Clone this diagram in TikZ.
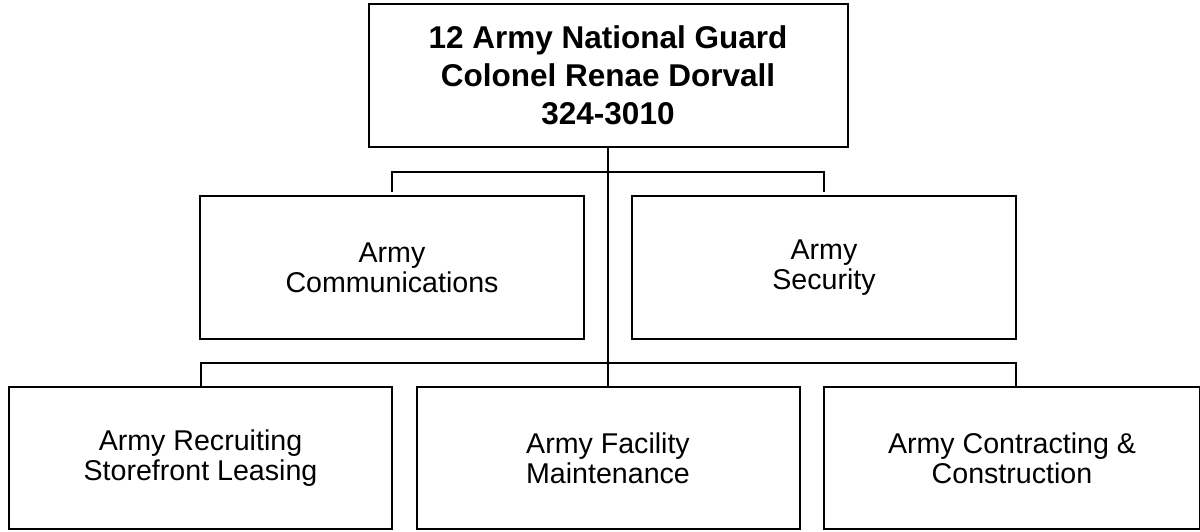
\documentclass[tikz,border=0pt]{standalone}
\usepackage{fontspec}
\setmainfont{Liberation Sans}
\begin{document}
\begin{tikzpicture}[x=1pt,y=-1pt,
  box/.style={draw,line width=2pt,rectangle,inner sep=0pt,align=center,fill=white},
  topbox/.style={box,minimum width=479pt,minimum height=143pt,font=\fontsize{31.5}{38}\selectfont\bfseries},
  midbox/.style={box,minimum width=384pt,minimum height=143pt,font=\fontsize{28.6}{30}\selectfont},
  botbox/.style={box,minimum height=142pt,font=\fontsize{28.6}{30}\selectfont},
  conn/.style={line width=2pt}]
\useasboundingbox (0,0) rectangle (1200,531);
\coordinate (b1) at (608,172);
\coordinate (b2) at (608,363);
\node[topbox] (top) at (608,75.5) {12 Army National Guard\\Colonel Renae Dorvall\\324-3010};
\node[midbox] (midL) at (392,267.5) {Army\\Communications};
\node[midbox] (midR) at (824,267.5) {Army\\Security};
\node[botbox,minimum width=383pt] (botL) at (200.5,458) {Army Recruiting\\Storefront Leasing};
\node[botbox,minimum width=383pt] (botM) at (608,458) {Army Facility\\Maintenance};
\node[botbox,minimum width=376pt] (botR) at (1012,458) {Army Contracting \&\\Construction};
\draw[conn] (top.south) -- (botM.north);
\draw[conn] ([yshift=3pt]midL.north) -- (midL.north |- b1) -- (midR.north |- b1) -- ([yshift=3pt]midR.north);
\draw[conn] (botL.north) -- (botL.north |- b2) -- ([xshift=4pt]botR.north |- b2) -- ([xshift=4pt]botR.north);
\end{tikzpicture}
\end{document}
